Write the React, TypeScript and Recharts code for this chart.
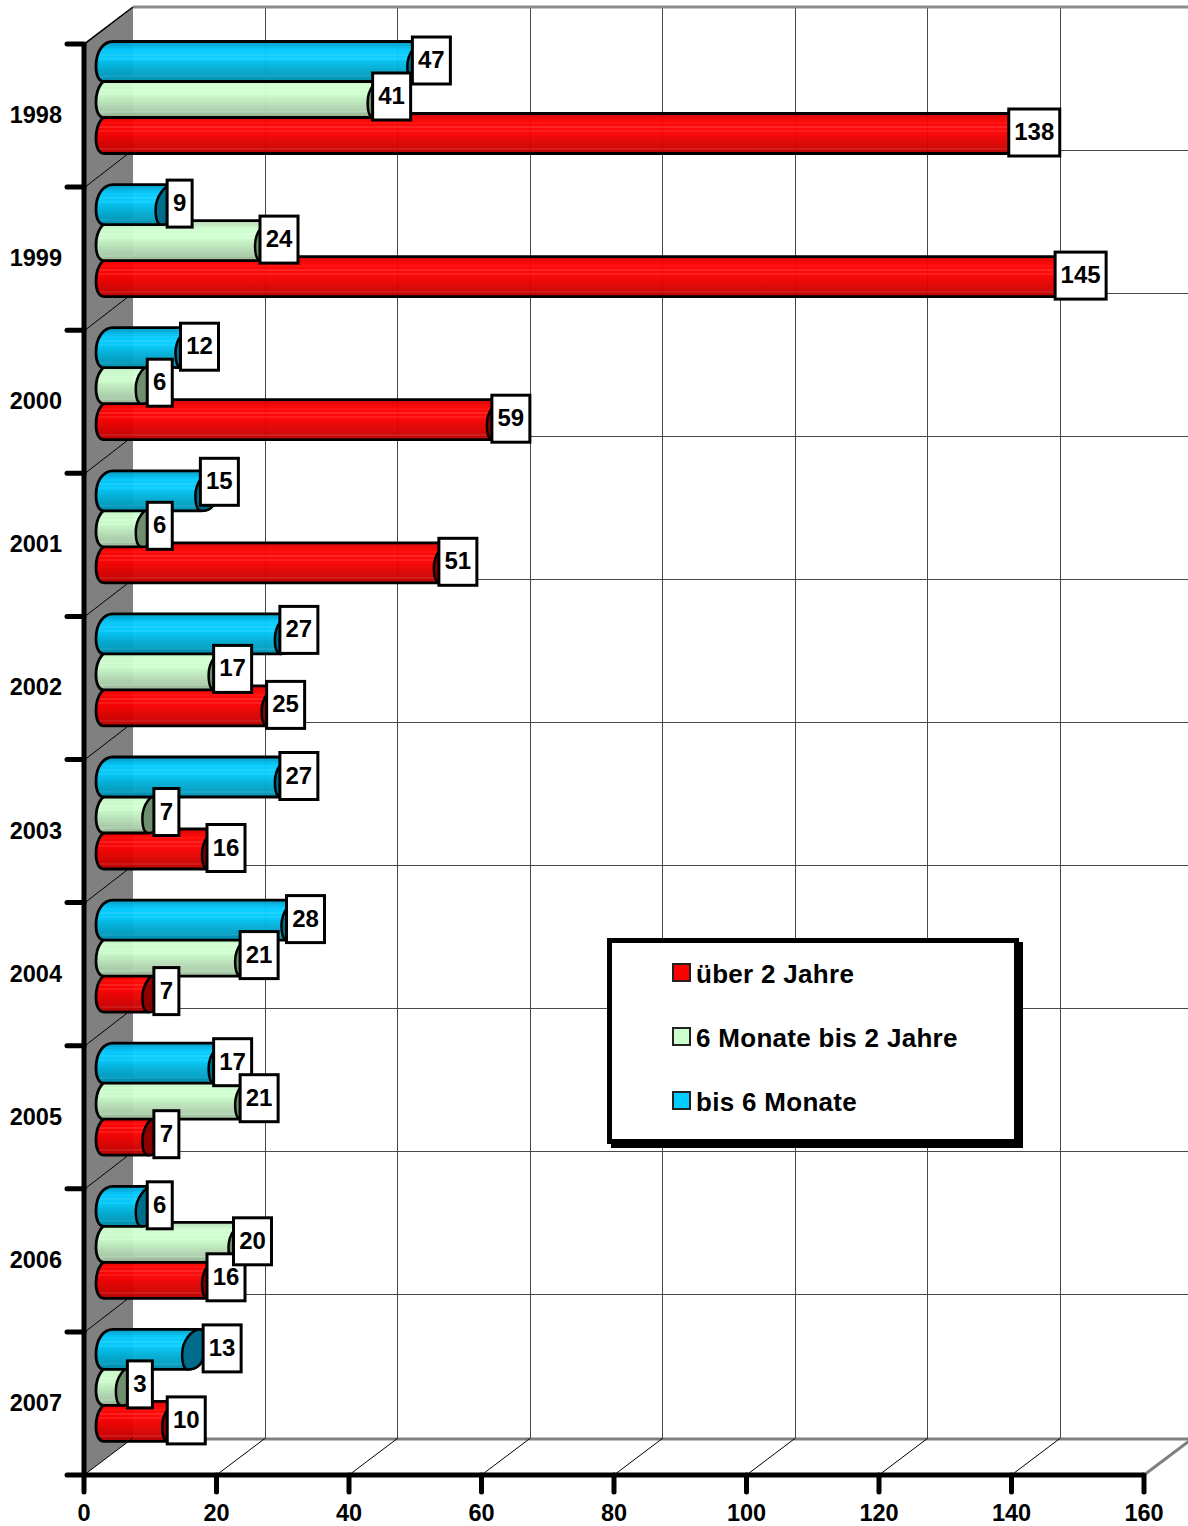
import React from "react";
import { BarChart, Bar, XAxis, YAxis, CartesianGrid, LabelList, Legend } from "recharts";

// Values per year, listed top to bottom
const years = ["1998", "1999", "2000", "2001", "2002", "2003", "2004", "2005", "2006", "2007"];
const overTwoYears = [138, 145, 59, 51, 25, 16, 7, 7, 16, 10];
const sixMonthsToTwoYears = [41, 24, 6, 6, 17, 7, 21, 21, 20, 3];
const upToSixMonths = [47, 9, 12, 15, 27, 27, 28, 17, 6, 13];
const valueTicks = [0, 20, 40, 60, 80, 100, 120, 140, 160];
const seriesNames = ["über 2 Jahre", "6 Monate bis 2 Jahre", "bis 6 Monate"];

const rows = years.map((year, i) => ({
  year,
  over: overTwoYears[i],
  mid: sixMonthsToTwoYears[i],
  short: upToSixMonths[i],
}));

const WIDTH = 1188;
const HEIGHT = 1526;
const LEFT = 84;
const TOP = 44;
const RIGHT = 1144;
const BOTTOM = 1475;
// Offset of the back wall relative to the front axes
const DEPTH_X = 49;
const DEPTH_Y = 37;
// Offset of the cylinders relative to the front axes
const BAR_DX = 12;
const BAR_SIZE = 40;
const FONT = "'Liberation Sans', Arial, sans-serif";

// Vertical shift of each series inside its year band
const rowShift: Record<string, number> = { short: -54.5, mid: -18.5, over: 17.5 };

// Labels that sit away from their usual spot
const labelNudge: Record<string, { dx?: number; dy?: number }> = {
  "short:3": { dy: -8 },
  "short:4": { dy: -3 },
  "short:9": { dx: 16 },
};

const redBands = ["#d80000", "#e60000", "#f20000", "#fb0000", "#ff0a0a", "#ff0000", "#ff1c1c", "#ff0000", "#ff1414", "#fa0000", "#f40000", "#ee0000", "#e80000", "#e20000", "#dc0000", "#d60000", "#d20000", "#d01414", "#c40000", "#b40000"];
const greenBands = ["#b4d8b4", "#bfe6bf", "#c6f2c6", "#ccfccc", "#d2ffd2", "#ccffcc", "#d8ffd8", "#ccffcc", "#d4ffd4", "#c8f8c8", "#c4f2c4", "#c0ecc0", "#bce6bc", "#b8e0b8", "#b4dab4", "#b0d4b0", "#acd0ac", "#b4d4b4", "#a4c6a4", "#9cbc9c"];
const blueBands = ["#00a0cc", "#00aad8", "#00b8e8", "#00c4f6", "#08caff", "#00ccff", "#18d0ff", "#00ccff", "#10ceff", "#00c4f4", "#00beec", "#00b8e4", "#00b2dc", "#00acd4", "#00a8ce", "#00a4c8", "#00a0c4", "#10a4c6", "#0096ba", "#008cae"];

const bandStops = (bands: string[]) =>
  bands.flatMap((color, i) => [
    <stop key={`${i}a`} offset={i / bands.length} stopColor={color} />,
    <stop key={`${i}b`} offset={(i + 1) / bands.length} stopColor={color} />,
  ]);

const Cylinder = (props: any) => {
  const { x, y, width, height, shift, gradient, capColor } = props;
  if (!width) return null;
  const top = y + shift;
  const h = height;
  const bottom = top + h;
  const mid = top + h * 0.62;
  const x0 = x + BAR_DX;
  const x1 = x0 + width;
  const body = [
    `M${x0 + 17},${top}`,
    `L${x1 + 18},${top}`,
    `C${x1 + 24},${top} ${x1 + 24},${top + h * 0.3} ${x1 + 22},${mid}`,
    `C${x1 + 20},${bottom - 3} ${x1 + 12},${bottom} ${x1 + 6},${bottom}`,
    `L${x0 + 8},${bottom}`,
    `C${x0 + 3},${bottom} ${x0},${bottom - 6} ${x0},${mid}`,
    `C${x0},${top + h * 0.22} ${x0 + 8},${top} ${x0 + 17},${top}`,
    "Z",
  ].join(" ");
  const cap = [
    `M${x1 + 18},${top}`,
    `C${x1 + 24},${top} ${x1 + 24},${top + h * 0.3} ${x1 + 22},${mid}`,
    `C${x1 + 20},${bottom - 3} ${x1 + 12},${bottom} ${x1 + 6},${bottom}`,
    `C${x1 + 2},${bottom} ${x1},${bottom - 6} ${x1},${mid}`,
    `C${x1},${top + h * 0.3} ${x1 + 9},${top} ${x1 + 18},${top}`,
    "Z",
  ].join(" ");
  return (
    <g>
      <path d={body} fill={`url(#${gradient})`} fillOpacity={0.96} stroke="#000" strokeWidth={2.8} strokeLinejoin="round" />
      <path d={cap} fill={capColor} stroke="#000" strokeWidth={2.5} strokeLinejoin="round" />
    </g>
  );
};

const NoMark = () => <g />;

const valueBox = (series: string) => (props: any) => {
  const box = props.viewBox ?? props;
  const { x, y, width, height } = box;
  const { value, index } = props;
  const text = String(value);
  const boxWidth = text.length === 1 ? 25 : text.length === 2 ? 38 : 51;
  const nudge = labelNudge[`${series}:${index}`] ?? {};
  const cx = x + BAR_DX + width + 24 + (nudge.dx ?? 0);
  const cy = y + rowShift[series] + height / 2 - 1 + (nudge.dy ?? 0);
  return (
    <g>
      <rect x={cx - boxWidth / 2} y={cy - 23.5} width={boxWidth} height={47} fill="#fff" stroke="#000" strokeWidth={3} />
      <text x={cx} y={cy + 7.5} textAnchor="middle" fontFamily={FONT} fontWeight={700} fontSize={24} fill="#000">
        {text}
      </text>
    </g>
  );
};

const ValueTick = (props: any) => {
  const { x, payload } = props;
  const isLast = payload.value === valueTicks[valueTicks.length - 1];
  return (
    <g>
      <line
        x1={x}
        y1={BOTTOM}
        x2={x + DEPTH_X}
        y2={BOTTOM - DEPTH_Y}
        stroke={isLast ? "#808080" : "#000"}
        strokeWidth={isLast ? 3 : 1}
      />
      <line x1={x} y1={BOTTOM} x2={x} y2={BOTTOM + 17} stroke="#000" strokeWidth={5} strokeLinecap="round" />
      <text x={x} y={BOTTOM + 46} textAnchor="middle" fontFamily={FONT} fontWeight={700} fontSize={23.5} fill="#000">
        {payload.value}
      </text>
    </g>
  );
};

const YearTick = (props: any) => {
  const { y, payload, index } = props;
  const band = (BOTTOM - TOP) / years.length;
  const bandTop = y - band / 2;
  const isLast = index === years.length - 1;
  return (
    <g>
      {/* the slanted line disappears behind the lowest cylinder of the year above */}
      <line x1={LEFT + 1} y1={bandTop} x2={LEFT + DEPTH_X * 0.88} y2={bandTop - DEPTH_Y * 0.88} stroke="#000" strokeWidth={1} />
      <line x1={LEFT - 17} y1={bandTop} x2={LEFT} y2={bandTop} stroke="#000" strokeWidth={5} strokeLinecap="round" />
      {isLast && <line x1={LEFT - 17} y1={BOTTOM} x2={LEFT} y2={BOTTOM} stroke="#000" strokeWidth={5} strokeLinecap="round" />}
      <text x={62} y={y + 7.5} textAnchor="end" fontFamily={FONT} fontWeight={700} fontSize={23.5} fill="#000">
        {payload.value}
      </text>
    </g>
  );
};

// Side wall and the heavier edges of the back wall and floor
const WallFrame = () => (
  <g>
    <polygon
      points={`${LEFT},${TOP} ${LEFT + DEPTH_X},${TOP - DEPTH_Y} ${LEFT + DEPTH_X},${BOTTOM - DEPTH_Y} ${LEFT},${BOTTOM}`}
      fill="#808080"
    />
    <line x1={LEFT + DEPTH_X} y1={TOP - DEPTH_Y} x2={WIDTH} y2={TOP - DEPTH_Y} stroke="#8c8c8c" strokeWidth={3} />
    <line x1={LEFT + DEPTH_X} y1={BOTTOM - DEPTH_Y + 1} x2={WIDTH} y2={BOTTOM - DEPTH_Y + 1} stroke="#808080" strokeWidth={3} />
    <line x1={LEFT} y1={TOP} x2={LEFT + DEPTH_X} y2={TOP - DEPTH_Y} stroke="#000" strokeWidth={1.5} />
  </g>
);

const LegendPanel = (props: any) => {
  const entries = seriesNames.map((name) => (props.payload ?? []).find((e: any) => e.value === name)).filter(Boolean);
  return (
    <div
      style={{
        boxSizing: "border-box",
        width: 412,
        height: 206,
        background: "#fff",
        border: "5px solid #000",
        boxShadow: "4px 4px 0 #000",
        position: "relative",
        fontFamily: FONT,
        fontWeight: 700,
        fontSize: 26,
        letterSpacing: 0.3,
        color: "#000",
      }}
    >
      {entries.map((entry: any, i: number) => (
        <div key={entry.value} style={{ position: "absolute", left: 60, top: 17 + i * 64, height: 29, whiteSpace: "nowrap", lineHeight: "29px" }}>
          <span
            style={{
              position: "absolute",
              left: 0,
              top: 3,
              width: 19,
              height: 19,
              boxSizing: "border-box",
              border: "2.5px solid #222",
              background: entry.color,
            }}
          />
          <span style={{ marginLeft: 24 }}>{entry.value}</span>
        </div>
      ))}
    </div>
  );
};

export default function App() {
  return (
    <div style={{ position: "absolute", left: 0, top: 0, width: WIDTH, height: HEIGHT, overflow: "hidden", background: "#fff" }}>
      <BarChart
        width={WIDTH}
        height={HEIGHT}
        data={rows}
        layout="vertical"
        barSize={BAR_SIZE}
        barGap={-BAR_SIZE}
        margin={{ top: TOP, right: WIDTH - RIGHT, bottom: 0, left: 0 }}
      >
        <defs>
          <linearGradient id="redBody" x1="0" y1="0" x2="0" y2="1">{bandStops(redBands)}</linearGradient>
          <linearGradient id="greenBody" x1="0" y1="0" x2="0" y2="1">{bandStops(greenBands)}</linearGradient>
          <linearGradient id="blueBody" x1="0" y1="0" x2="0" y2="1">{bandStops(blueBands)}</linearGradient>
        </defs>
        <CartesianGrid
          x={LEFT + DEPTH_X}
          y={TOP - DEPTH_Y}
          width={WIDTH - LEFT - DEPTH_X}
          height={BOTTOM - TOP}
          stroke="#484848"
          strokeWidth={1}
          verticalCoordinatesGenerator={({ offset }: any) =>
            valueTicks
              .map((t) => Math.floor(offset.left + (t / 160) * offset.width + DEPTH_X - 0.5) + 0.5)
              .filter((px) => px < WIDTH)
          }
          horizontalCoordinatesGenerator={({ offset }: any) =>
            years.map((_, i) => Math.floor(offset.top - DEPTH_Y + ((i + 1) * offset.height) / years.length) + 0.5)
          }
        />
        <WallFrame />
        <XAxis
          type="number"
          domain={[0, 160]}
          ticks={valueTicks}
          interval={0}
          height={HEIGHT - BOTTOM}
          axisLine={{ stroke: "#000", strokeWidth: 5 }}
          tickLine={false}
          tick={<ValueTick />}
        />
        <YAxis
          type="category"
          dataKey="year"
          width={LEFT}
          interval={0}
          axisLine={{ stroke: "#000", strokeWidth: 5 }}
          tickLine={false}
          tick={<YearTick />}
        />
        <Legend
          layout="horizontal"
          verticalAlign="middle"
          align="center"
          content={<LegendPanel />}
          wrapperStyle={{ position: "absolute", left: 607, top: 938, width: 412, height: 206, bottom: "auto", right: "auto", margin: 0 }}
        />
        <Bar
          dataKey="over"
          name={seriesNames[0]}
          fill="#ff0000"
          isAnimationActive={false}
          shape={(p: any) => <Cylinder {...p} shift={rowShift.over} gradient="redBody" capColor="#8c0000" />}
        />
        <Bar
          dataKey="mid"
          name={seriesNames[1]}
          fill="#ccffcc"
          isAnimationActive={false}
          shape={(p: any) => <Cylinder {...p} shift={rowShift.mid} gradient="greenBody" capColor="#6f8f6f" />}
        />
        <Bar
          dataKey="short"
          name={seriesNames[2]}
          fill="#00ccff"
          isAnimationActive={false}
          shape={(p: any) => <Cylinder {...p} shift={rowShift.short} gradient="blueBody" capColor="#006c8c" />}
        />
        {/* Value boxes go in their own passes so the middle series stays on top */}
        <Bar dataKey="over" legendType="none" isAnimationActive={false} shape={<NoMark />}>
          <LabelList dataKey="over" content={valueBox("over")} />
        </Bar>
        <Bar dataKey="short" legendType="none" isAnimationActive={false} shape={<NoMark />}>
          <LabelList dataKey="short" content={valueBox("short")} />
        </Bar>
        <Bar dataKey="mid" legendType="none" isAnimationActive={false} shape={<NoMark />}>
          <LabelList dataKey="mid" content={valueBox("mid")} />
        </Bar>
      </BarChart>
    </div>
  );
}
